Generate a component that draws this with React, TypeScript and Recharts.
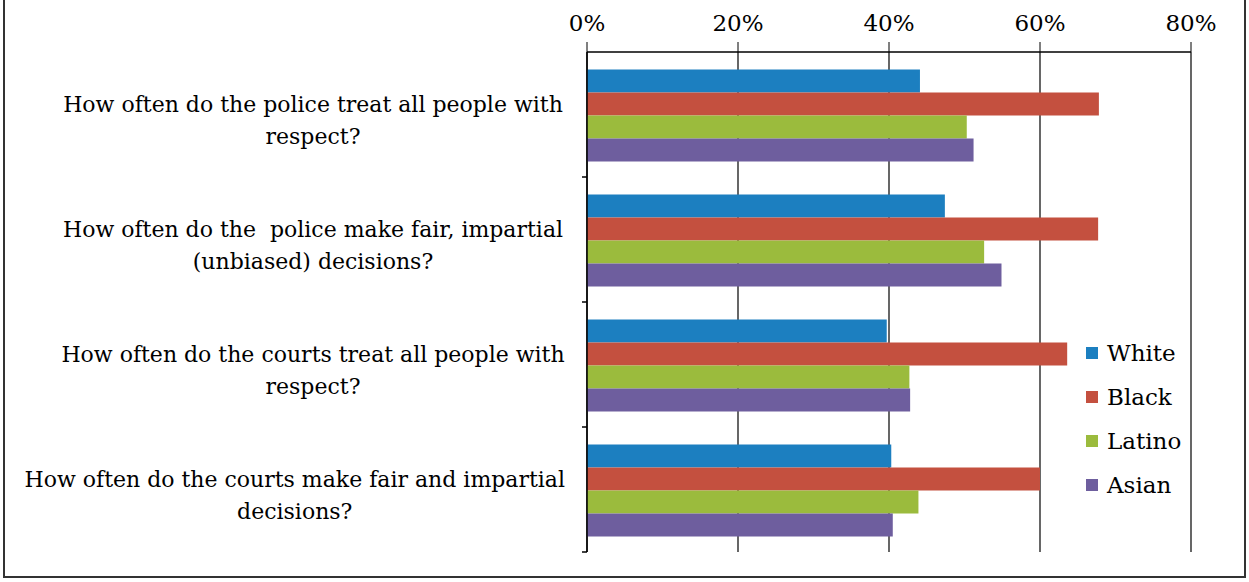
import React from "react";
import { BarChart, Bar, XAxis, YAxis, CartesianGrid } from "recharts";

const categories = [
  "How often do the police treat all people with\nrespect?",
  "How often do the  police make fair, impartial\n(unbiased) decisions?",
  "How often do the courts treat all people with\nrespect?",
  "How often do the courts make fair and impartial\ndecisions?",
];
const white = [44.1, 47.4, 39.7, 40.3];
const black = [67.8, 67.7, 63.6, 60.0];
const latino = [50.3, 52.6, 42.7, 43.9];
const asian = [51.2, 54.9, 42.8, 40.5];
const xTicks = [0, 20, 40, 60, 80];

const series = [
  { key: "White", values: white, color: "#1c7fc0" },
  { key: "Black", values: black, color: "#c4503f" },
  { key: "Latino", values: latino, color: "#9bbb3d" },
  { key: "Asian", values: asian, color: "#6e5e9e" },
];

const data = categories.map((q, i) => {
  const row: any = { q };
  series.forEach((s) => (row[s.key] = s.values[i]));
  return row;
});

const FONT = "'DejaVu Serif', 'Liberation Serif', serif";
const LABEL_SIZE = 22;

// measure label width so long labels hug the right edge like Excel does
let ctx: CanvasRenderingContext2D | null = null;
function textWidth(s: string) {
  if (!ctx) ctx = document.createElement("canvas").getContext("2d");
  if (!ctx) return s.length * 11;
  ctx.font = `${LABEL_SIZE}px ${FONT}`;
  return ctx.measureText(s).width;
}

function XTick({ x, y, payload }: any) {
  return (
    <text x={x} y={y - 9} textAnchor="middle" fontFamily={FONT} fontSize={23} fill="#000">
      {payload.value}%
    </text>
  );
}

function YTick({ y, payload }: any) {
  const lines = String(payload.value).split("\n");
  const axisX = 587;
  const maxW = Math.max(...lines.map(textWidth));
  const cx = Math.min(313, 565 - maxW / 2);
  const half = payload.offset ?? 62.5;
  return (
    <g>
      <line x1={axisX - 5} x2={axisX} y1={y + half} y2={y + half} stroke="#000" strokeWidth={1.5} />
      <text
        x={cx}
        y={y - 3}
        textAnchor="middle"
        fontFamily={FONT}
        fontSize={LABEL_SIZE}
        fill="#000"
        style={{ whiteSpace: "pre" }}
      >
        {lines.map((l, i) => (
          <tspan key={i} x={cx} dy={i === 0 ? 0 : 32}>
            {l}
          </tspan>
        ))}
      </text>
    </g>
  );
}

function LegendBox() {
  return (
    <div style={{ position: "absolute", left: 1086, top: 338, display: "flex", flexDirection: "column", gap: 14 }}>
      {series.map((s) => (
        <div key={s.key} style={{ display: "flex", alignItems: "center", height: 30, gap: 9 }}>
          <span style={{ width: 12, height: 12, background: s.color, display: "inline-block" }} />
          <span style={{ fontFamily: FONT, fontSize: 23, color: "#000" }}>{s.key}</span>
        </div>
      ))}
    </div>
  );
}

export default function App() {
  return (
    <div style={{ position: "absolute", left: 0, top: 0, width: 1249, height: 582, background: "#fff", overflow: "hidden" }}>
      {/* scanned frame, top edge cut off */}
      <div style={{ position: "absolute", left: 3, top: -6, width: 1239, height: 580, border: "2px solid #333" }} />
      <BarChart
        width={1249}
        height={582}
        data={data}
        layout="vertical"
        margin={{ top: 0, right: 58, bottom: 30, left: 0 }}
        barCategoryGap="14%"
        barGap={0}
      >
        <CartesianGrid horizontal={false} stroke="#000" strokeWidth={1.2} />
        <XAxis
          type="number"
          orientation="top"
          domain={[0, 80]}
          ticks={xTicks}
          height={52}
          tickSize={10}
          tick={<XTick />}
          axisLine={{ stroke: "#000", strokeWidth: 1.5 }}
          tickLine={{ stroke: "#000" }}
        />
        <YAxis
          type="category"
          dataKey="q"
          width={587}
          tick={<YTick />}
          tickLine={false}
          axisLine={{ stroke: "#000", strokeWidth: 1.5 }}
          interval={0}
        />
        {series.map((s) => (
          <Bar key={s.key} dataKey={s.key} fill={s.color} isAnimationActive={false} />
        ))}
      </BarChart>
      <LegendBox />
    </div>
  );
}
